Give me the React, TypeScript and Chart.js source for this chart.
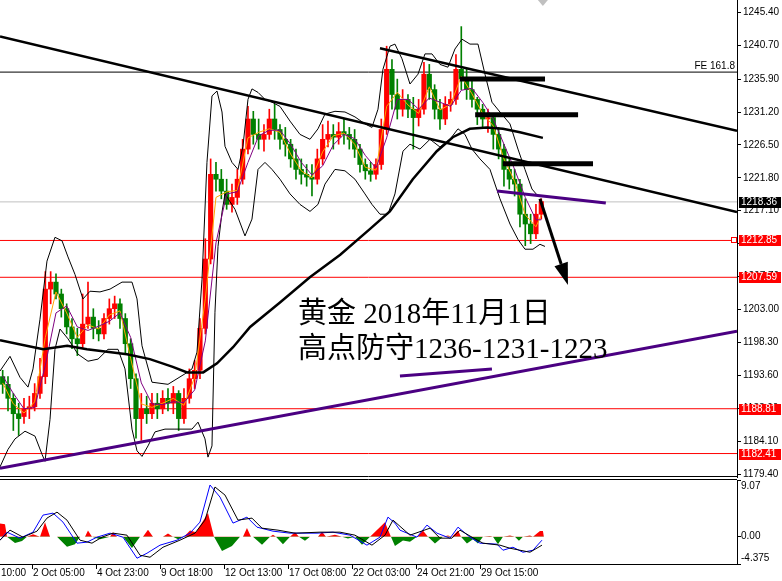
import React, { useEffect, useRef } from "react";
import { Chart, registerables } from "chart.js";

Chart.register(...registerables);

// ---------------- axes / labels ----------------
const priceTicks = [1245.4, 1240.7, 1235.9, 1231.2, 1226.5, 1221.8, 1217.1, 1212.4, 1207.7, 1203.0, 1198.3, 1193.6, 1188.9, 1184.1, 1179.4];
const indicatorTicks = [9.07, 0, -4.375];
const indicatorTickLabels = ["9.07", "0.00", "-4.375"];
const timeTickIndex = [-0.5, 5.5, 17.5, 29.5, 41.5, 53.5, 65.5, 77.5, 89.5];
const timeLabels = ["10:00", "2 Oct 05:00", "4 Oct 23:00", "9 Oct 18:00", "12 Oct 13:00", "17 Oct 08:00", "22 Oct 03:00", "24 Oct 21:00", "29 Oct 15:00"];

// ---------------- candles (H1 gold, compressed) ----------------
const candleOpen = [
  1193.4, 1192.3, 1190.3, 1188.1, 1187.7, 1188.8, 1189.1, 1191.0, 1193.4, 1205.9,
  1206.9, 1205.2, 1203.1, 1200.5, 1198.8, 1198.1, 1200.9, 1201.9, 1200.3, 1199.5,
  1201.7, 1203.1, 1203.8, 1201.7, 1198.1, 1193.1, 1187.4, 1188.8, 1188.1, 1189.6,
  1188.8, 1190.3, 1189.6, 1191.0, 1187.4, 1190.3, 1193.1, 1194.3, 1200.3, 1210.2,
  1222.3, 1221.6, 1219.9, 1218.0, 1219.0, 1221.6, 1225.9, 1230.2, 1228.0, 1227.3,
  1228.0, 1230.2, 1228.7, 1227.3, 1226.6, 1224.5, 1223.0, 1222.3, 1221.9, 1221.6,
  1224.5, 1227.3, 1228.0, 1227.6, 1228.4, 1228.0, 1227.3, 1225.9, 1223.7, 1222.8,
  1222.3, 1223.7, 1228.7, 1237.3, 1233.7, 1231.6, 1233.0, 1231.6, 1230.4, 1231.6,
  1236.6, 1234.4, 1231.6, 1230.2, 1232.3, 1233.0, 1237.3, 1235.9, 1234.4, 1233.0,
  1231.6, 1230.2, 1230.4, 1228.0, 1225.9, 1223.0, 1221.6, 1220.9, 1216.6, 1215.2,
  1213.8, 1216.6,
];
const candleHigh = [
  1194.3, 1193.4, 1191.0, 1189.6, 1190.3, 1190.6, 1192.4, 1196.0, 1208.4, 1208.4,
  1208.1, 1205.9, 1203.8, 1201.7, 1200.3, 1205.2, 1206.9, 1203.1, 1201.4, 1202.4,
  1204.5, 1204.9, 1204.5, 1202.4, 1198.8, 1193.8, 1191.0, 1190.6, 1191.0, 1191.0,
  1191.4, 1191.7, 1192.0, 1191.4, 1191.7, 1194.5, 1195.7, 1201.7, 1213.1, 1224.5,
  1224.0, 1223.0, 1221.6, 1220.9, 1223.0, 1227.3, 1232.0, 1231.3, 1230.2, 1229.4,
  1231.6, 1232.3, 1229.4, 1229.0, 1227.3, 1225.9, 1224.5, 1223.7, 1223.7, 1225.9,
  1229.4, 1229.9, 1229.4, 1229.7, 1230.2, 1229.0, 1228.7, 1226.6, 1224.5, 1224.0,
  1224.5, 1230.2, 1240.6, 1238.7, 1235.9, 1234.4, 1233.7, 1233.3, 1233.0, 1238.3,
  1238.0, 1235.1, 1233.0, 1233.4, 1234.1, 1239.4, 1243.4, 1237.3, 1235.9, 1233.3,
  1232.3, 1231.6, 1230.9, 1229.0, 1226.6, 1224.5, 1223.0, 1221.6, 1218.8, 1216.6,
  1218.0, 1218.8,
];
const candleLow = [
  1191.0, 1188.5, 1185.7, 1185.0, 1186.7, 1187.4, 1188.5, 1190.3, 1192.4, 1203.8,
  1204.5, 1201.9, 1199.5, 1197.4, 1196.4, 1197.4, 1200.3, 1198.8, 1198.5, 1198.8,
  1200.9, 1201.7, 1200.3, 1196.7, 1191.7, 1184.6, 1184.3, 1186.7, 1187.4, 1187.4,
  1188.1, 1188.5, 1188.1, 1185.7, 1186.7, 1189.6, 1191.7, 1193.1, 1199.5, 1209.5,
  1219.9, 1218.8, 1217.3, 1216.9, 1218.0, 1220.9, 1225.2, 1226.6, 1225.9, 1225.6,
  1227.3, 1227.3, 1225.9, 1224.9, 1223.3, 1221.6, 1220.9, 1220.6, 1219.2, 1220.9,
  1223.7, 1226.2, 1225.9, 1226.6, 1226.6, 1225.9, 1224.7, 1222.6, 1221.6, 1221.3,
  1221.6, 1223.0, 1228.0, 1231.6, 1230.2, 1230.6, 1230.4, 1225.9, 1229.2, 1230.9,
  1233.0, 1230.2, 1228.7, 1229.4, 1231.3, 1232.3, 1234.4, 1233.0, 1231.9, 1229.4,
  1229.0, 1228.3, 1225.9, 1224.5, 1220.6, 1220.2, 1219.2, 1214.8, 1212.1, 1212.4,
  1213.1, 1215.9,
];
const candleClose = [
  1192.3, 1190.3, 1188.1, 1187.4, 1188.8, 1189.1, 1191.0, 1193.4, 1205.9, 1206.9,
  1205.2, 1203.1, 1200.5, 1198.8, 1198.1, 1200.9, 1201.9, 1200.3, 1199.5, 1201.7,
  1203.1, 1203.8, 1201.7, 1198.1, 1193.1, 1187.4, 1188.8, 1188.1, 1189.6, 1188.8,
  1190.3, 1189.6, 1191.0, 1187.4, 1190.3, 1193.1, 1194.3, 1200.3, 1210.2, 1222.3,
  1221.6, 1219.9, 1218.0, 1219.0, 1221.6, 1225.9, 1230.2, 1228.0, 1227.3, 1228.0,
  1230.2, 1228.7, 1227.3, 1226.6, 1224.5, 1223.0, 1222.3, 1221.9, 1221.6, 1224.5,
  1227.3, 1228.0, 1227.6, 1228.4, 1228.0, 1227.3, 1225.9, 1223.7, 1222.8, 1222.3,
  1223.7, 1228.7, 1237.3, 1233.7, 1231.6, 1233.0, 1231.6, 1230.4, 1231.6, 1236.6,
  1234.4, 1231.6, 1230.2, 1232.3, 1233.0, 1237.3, 1235.9, 1234.4, 1233.0, 1231.6,
  1230.2, 1230.4, 1228.0, 1225.9, 1223.0, 1221.6, 1220.9, 1216.6, 1215.2, 1213.8,
  1216.6, 1218.4,
];

// ---------------- moving averages ----------------
const maIndex = [0, 2, 4, 6, 8, 10, 12, 14, 16, 18, 20, 22, 24, 26, 28, 30, 32, 34, 36, 38, 40, 42, 44, 46, 48, 50, 52, 54, 56, 58, 60, 62, 64, 66, 68, 70, 72, 74, 76, 78, 80, 82, 84, 86, 88, 90, 92, 94, 96, 98, 100, 101];
const maFast = [1192.5, 1189.5, 1188.2, 1189.8, 1199, 1205.5, 1202.5, 1199, 1200.8, 1200.2, 1202.2, 1202.8, 1196, 1189.5, 1189, 1189.6, 1190.3, 1189.3, 1193.3, 1204.5, 1219, 1219.8, 1220, 1227.5, 1228.3, 1228.8, 1228.3, 1225.2, 1222.8, 1221.8, 1225.5, 1227.8, 1228.2, 1226.6, 1223.3, 1222.9, 1232, 1234, 1232.2, 1231, 1234.8, 1231.5, 1232.3, 1236.3, 1233.8, 1231, 1229.2, 1224.5, 1221.3, 1216.5, 1214.8, 1216.5];
const maSlow = [1193.5, 1191, 1188.8, 1189, 1195, 1202.5, 1203.5, 1200.5, 1200, 1200.6, 1201.3, 1202.5, 1199, 1192.5, 1189.5, 1189.4, 1189.8, 1189.7, 1191.5, 1198.5, 1212.5, 1219.5, 1219.8, 1224, 1227.8, 1228.6, 1228.6, 1226.6, 1224, 1222.2, 1223.5, 1226.5, 1228, 1227.4, 1225, 1223.2, 1227.5, 1233, 1233, 1231.6, 1233.2, 1232.6, 1232, 1234.3, 1234.6, 1232.6, 1230.2, 1226.6, 1223, 1219, 1215.8, 1215.8];
const ma200Index = [-0.5, 7.6, 12.1, 15.8, 23.3, 27.6, 31.9, 34.6, 37.6, 40.2, 43.2, 46.4, 52, 57.6, 63.3, 68.9, 72.6, 76.9, 81.4, 84.4, 87.6, 90.8, 93.8, 97, 101.3];
const ma200Value = [1198.6, 1197.3, 1197.8, 1197.3, 1196.6, 1195.9, 1194.8, 1194.0, 1194.0, 1195.3, 1197.6, 1200.5, 1204.0, 1207.6, 1210.8, 1214.5, 1217.0, 1221.6, 1225.6, 1227.6, 1228.8, 1229.0, 1228.8, 1228.3, 1227.5];

// ---------------- bands ----------------
const bandUpperIndex = [-0.5, 1.38, 3.25, 4.75, 5.69, 7, 8.31, 9.81, 11.13, 12.25, 13.56, 15.06, 16.38, 18.25, 20.13, 22.38, 24.25, 25.19, 26.13, 28, 31, 34.19, 35.5, 36.44, 37.38, 38.31, 39.25, 40.19, 41.13, 41.69, 43, 44.13, 45.06, 46, 46.75, 47.88, 49.19, 50.5, 52, 53.88, 55.75, 57.63, 59.13, 60.44, 62.31, 64.19, 66.06, 67.94, 69.25, 70.38, 71.31, 72.63, 73.56, 74.88, 76.38, 77.88, 79.19, 80.5, 82, 83.5, 84.81, 86.13, 87.63, 89.13, 90.44, 91.75, 93.25, 95.13, 96.63, 97.94, 99.25, 100.38, 101.31];
const bandUpperValue = [1194.2, 1196.3, 1193.3, 1191.9, 1194.5, 1201.6, 1209.9, 1213.3, 1212.8, 1210.5, 1208.0, 1204.5, 1205.6, 1205.5, 1205.9, 1206.9, 1206.9, 1204.5, 1197.8, 1192.6, 1192.3, 1193.8, 1194.5, 1196.9, 1207.3, 1224.0, 1233.5, 1234.2, 1231.2, 1226.3, 1224.0, 1223.0, 1226.3, 1233.0, 1234.5, 1234.0, 1233.0, 1232.6, 1232.0, 1229.9, 1228.0, 1227.3, 1228.8, 1230.9, 1231.3, 1231.2, 1230.5, 1229.5, 1229.0, 1231.6, 1237.3, 1240.6, 1240.9, 1238.8, 1235.2, 1236.6, 1239.5, 1239.5, 1238.0, 1237.6, 1240.2, 1241.6, 1240.9, 1240.9, 1236.6, 1232.6, 1231.2, 1229.5, 1225.9, 1223.0, 1220.2, 1219.2, 1219.2];
const bandLowerIndex = [-0.5, 1, 2.31, 4.19, 6.06, 7.38, 7.94, 8.88, 9.81, 10.75, 12.25, 14.13, 16, 17.88, 19.75, 21.63, 22.94, 24.25, 25.19, 26.13, 27.25, 28.56, 30.44, 32.31, 35.5, 36.63, 37.94, 38.5, 39.25, 39.81, 40.38, 41.13, 41.69, 43.56, 45.44, 46.75, 47.88, 49.19, 50.5, 52, 53.88, 55.75, 57.63, 59.13, 60.44, 62.31, 64.19, 66.06, 67.94, 69.25, 70.75, 72.25, 73.56, 75.06, 76.38, 78.25, 80.13, 82, 83.88, 85.38, 86.69, 88, 89.5, 91.38, 93.25, 95.13, 96.63, 97.94, 99.44, 100.75, 101.69];
const bandLowerValue = [1180.5, 1183.0, 1184.5, 1185.6, 1184.9, 1182.3, 1181.3, 1187.3, 1197.3, 1200.2, 1198.8, 1196.6, 1195.6, 1195.9, 1197.3, 1197.3, 1194.5, 1185.9, 1182.8, 1182.0, 1183.5, 1185.5, 1185.9, 1185.9, 1185.9, 1186.9, 1184.5, 1181.9, 1183.5, 1202.6, 1212.0, 1216.9, 1219.5, 1217.3, 1213.5, 1215.9, 1223.0, 1224.0, 1223.0, 1221.6, 1219.5, 1218.0, 1217.0, 1218.0, 1220.9, 1223.0, 1222.8, 1221.6, 1219.5, 1218.0, 1216.6, 1216.6, 1219.5, 1225.6, 1226.6, 1225.9, 1227.3, 1226.2, 1227.3, 1228.8, 1228.0, 1225.9, 1224.5, 1223.0, 1218.8, 1215.2, 1213.0, 1211.6, 1211.6, 1212.3, 1212.0];

// ---------------- drawn objects ----------------
const levelValues = [1218.36, 1212.85, 1207.59, 1188.81, 1182.41];
const levelLabels = ["1218.36", "1212.85", "1207.59", "1188.81", "1182.41"];
const feLevel = 1236.9;
const feLabel = "FE 161.8";
const channelLowerIndex = [-0.5, 137.7];
const channelLowerValue = [1242.0, 1216.9];
const channelUpperIndex = [70.75, 137.7];
const channelUpperValue = [1240.3, 1228.5];
const supportIndex = [-0.5, 137.7];
const supportValue = [1180.3, 1199.9];
const shortPurpleAIndex = [92.7, 113.1];
const shortPurpleAValue = [1219.9, 1218.2];
const shortPurpleBIndex = [74.5, 91.75];
const shortPurpleBValue = [1193.5, 1194.5];
const defenceValue = [1235.9, 1230.8, 1223.8];
const defenceFrom = [85.75, 88.6, 93.8];
const defenceTo = [101.7, 107.9, 110.7];
const arrowFrom = [100.75, 1218.8];
const arrowTo = [106.0, 1206.5];
const noteLines = ["黄金 2018年11月1日", "高点防守1236-1231-1223"];

// ---------------- oscillator ----------------
const histIndex = [-0.5, 0.44, 0.81, 2.31, 3.63, 4.56, 5.69, 7, 7.94, 8.88, 10.19, 12.06, 13.56, 14.5, 15.44, 16, 16.75, 18.25, 20.13, 20.69, 21.44, 22.56, 24.25, 25.75, 26.31, 27.25, 28.19, 30.06, 31, 31.94, 32.88, 34, 35.13, 36.25, 38.5, 39.63, 41.13, 43, 44.5, 45.06, 45.81, 46.56, 46.94, 48.63, 50.13, 50.69, 51.25, 52.56, 53.88, 54.81, 55.56, 56.69, 57.63, 59.13, 59.88, 60.63, 62.31, 63.63, 64.75, 66.06, 67.38, 68.88, 71.69, 72.81, 73.56, 75.06, 76.38, 77.69, 78.81, 79.75, 81.06, 82.56, 83.5, 84.25, 85.38, 85.94, 87.06, 88.19, 89.13, 90.06, 91.38, 91.94, 92.88, 93.81, 95.13, 96.06, 96.81, 97.56, 98.88, 99.44, 100.75, 101.31, 101.5];
const histValue = [2.1, 2.0, 0, -1.0, -0.7, 0, 0.4, 0, 2.3, 0, 0, -1.6, -1.2, 0, 0, 1.0, 0, -0.4, 0, 0.7, 0, 0, -1.8, 0, 0, 1.1, 0, 0, 0.5, 0, -0.4, 0, 1.0, 0.7, 3.8, 0, -2.3, -1.5, 0, 0, 1.4, 0, 0, -1.3, 0, 0.3, 0, -1.2, 0, 0.7, 0, -0.65, 0, 0, 0.8, 0, 0.3, 0, -0.3, 0, -1.3, 0, 2.3, 0, -1.5, -0.6, -0.8, 0, 1.0, 0, -1.1, 0, 0.2, 0, 1.0, 0, -1.1, -0.4, -1.1, 0, 0.1, 0, -1.2, 0, 0.2, 0, -0.65, 0, 0.2, 0, 0.9, 0.9, 0];
const blueIndex = [-0.5, 0.81, 3.25, 5.69, 7.56, 9.44, 11.31, 13.94, 15.81, 17.69, 20.13, 22.56, 25.19, 27.06, 29.5, 32.69, 35.13, 37, 38.88, 40.75, 43.19, 45.81, 47.69, 50.69, 53.88, 58.94, 61.94, 65.13, 68.31, 70.75, 72.25, 73.56, 74.5, 77.69, 79.56, 81.44, 83.88, 85.38, 87.63, 89.5, 92.69, 93.81, 95.69, 97.56, 99.44, 101.13];
const blueValue = [-0.56, 0.72, -0.24, 0.72, 3.45, 3.77, 2.33, -1.04, -0.88, -0.08, 0.56, -0.08, -3.45, -2.65, -1.36, -0.56, 0.56, 2.33, 8.27, 6.34, 2.17, 3.13, 1.52, 0.88, 0.56, 0.56, 0.72, 0.24, -1.36, -0.08, 3.13, 2.17, 1.04, -0.08, 1.85, 0.56, -0.24, 1.52, -0.08, -1.04, -1.2, -2.17, -1.69, -2.49, -2.17, -0.56];
const blackIndex = [-0.5, 1.38, 3.81, 6.44, 8.31, 10.19, 12.06, 14.5, 16.75, 18.63, 20.69, 23.31, 25.75, 27.63, 30.06, 33.25, 36.06, 37.94, 39.81, 41.69, 44.13, 46.75, 48.63, 51.63, 54.81, 59.5, 63.25, 66.06, 69.25, 71.69, 73.19, 76.38, 80.13, 82, 84.25, 85.75, 88, 90.06, 93.25, 95.13, 98.88, 101.13];
const blackValue = [-0.56, 1.04, -0.08, 0.88, 2.97, 3.93, 2.65, -0.56, -1.04, -0.08, 0.56, 0.24, -2.97, -3.29, -1.69, -0.56, 0.56, 2.65, 7.95, 6.66, 2.65, 2.97, 1.36, 1.04, 0.56, 0.72, 0.72, 0.24, -1.36, 0.24, 2.65, 0.24, 1.36, -0.24, -0.24, 1.04, -0.08, -1.04, -1.36, -1.85, -2.49, -1.36];

// ---------------- layout constants ----------------
const X_MIN = -0.5;
const X_MAX = 137.7;
const Y_MIN = 1179.06;
const Y_MAX = 1247.2;
const AXIS_W = 45;
const AXIS_FONT = "'Liberation Sans', Arial, sans-serif";
const AXIS_SIZE = 10;
const NOTE_FONT = "29px 'Liberation Serif', 'Noto Sans CJK SC', serif";
const NOTE_X = 55.4;
const NOTE_Y = [1201.05, 1196.05];
const SHIFT_X = 101.3;

const pts = (xs: number[], ys: number[]) => xs.map((x, i) => ({ x, y: ys[i] }));
const lineDs = (data: any[], color: string, width: number, order: number, extra: any = {}) => ({
  type: "line",
  data,
  borderColor: color,
  backgroundColor: color,
  borderWidth: width,
  pointRadius: 0,
  pointHoverRadius: 0,
  fill: false,
  tension: 0,
  order,
  ...extra,
});

const mainOverlay = {
  id: "mainOverlay",
  afterDatasetsDraw(chart: any) {
    const { ctx, chartArea: a, scales } = chart;
    const xs = scales.x;
    const ys = scales.y;
    ctx.save();
    // arrow
    const x1 = xs.getPixelForValue(arrowFrom[0]);
    const y1 = ys.getPixelForValue(arrowFrom[1]);
    const x2 = xs.getPixelForValue(arrowTo[0]);
    const y2 = ys.getPixelForValue(arrowTo[1]);
    const ang = Math.atan2(y2 - y1, x2 - x1);
    const head = 22;
    const half = 7;
    const bx = x2 - head * Math.cos(ang);
    const by = y2 - head * Math.sin(ang);
    ctx.strokeStyle = "#000";
    ctx.lineWidth = 3;
    ctx.beginPath();
    ctx.moveTo(x1, y1);
    ctx.lineTo(bx, by);
    ctx.stroke();
    ctx.fillStyle = "#000";
    ctx.beginPath();
    ctx.moveTo(x2, y2);
    ctx.lineTo(bx - half * Math.sin(ang), by + half * Math.cos(ang));
    ctx.lineTo(bx + half * Math.sin(ang), by - half * Math.cos(ang));
    ctx.closePath();
    ctx.fill();
    // note text
    ctx.font = NOTE_FONT;
    ctx.textAlign = "left";
    ctx.textBaseline = "alphabetic";
    ctx.fillStyle = "#000";
    noteLines.forEach((t, i) => ctx.fillText(t, xs.getPixelForValue(NOTE_X), ys.getPixelForValue(NOTE_Y[i])));
    // FE label
    ctx.font = `${AXIS_SIZE}px ${AXIS_FONT}`;
    ctx.textAlign = "right";
    ctx.textBaseline = "bottom";
    ctx.fillText(feLabel, a.right - 2, ys.getPixelForValue(feLevel) - 1);
    // bottom frame
    ctx.strokeStyle = "#000";
    ctx.lineWidth = 1;
    ctx.beginPath();
    ctx.moveTo(0, a.bottom - 0.5);
    ctx.lineTo(a.right, a.bottom - 0.5);
    ctx.stroke();
    // chart shift marker
    const sx = xs.getPixelForValue(SHIFT_X);
    ctx.fillStyle = "#c0c0c0";
    ctx.beginPath();
    ctx.moveTo(sx - 5, a.top);
    ctx.lineTo(sx + 5, a.top);
    ctx.lineTo(sx, a.top + 6);
    ctx.closePath();
    ctx.fill();
    // small square at right end of 1212.85 line
    const qy = Math.round(ys.getPixelForValue(levelValues[1]));
    ctx.fillStyle = "#fff";
    ctx.strokeStyle = "#ff0000";
    ctx.fillRect(a.right - 5, qy - 2, 4, 4);
    ctx.strokeRect(a.right - 5.5, qy - 2.5, 5, 5);
    ctx.restore();
  },
  afterDraw(chart: any) {
    const { ctx, chartArea: a, scales } = chart;
    ctx.save();
    ctx.font = `${AXIS_SIZE}px ${AXIS_FONT}`;
    ctx.textAlign = "left";
    ctx.textBaseline = "middle";
    levelValues.forEach((v, i) => {
      const py = Math.round(scales.y.getPixelForValue(v));
      ctx.fillStyle = i === 0 ? "#000" : "#ff0000";
      ctx.fillRect(a.right + 2, py - 5, 42, 11);
      ctx.fillStyle = "#fff";
      ctx.fillText(levelLabels[i], a.right + 4, py + 0.5);
    });
    ctx.restore();
  },
};

const indOverlay = {
  id: "indOverlay",
  afterDraw(chart: any) {
    const { ctx, chartArea: a, scales } = chart;
    ctx.save();
    ctx.strokeStyle = "#000";
    ctx.lineWidth = 1;
    ctx.beginPath();
    ctx.moveTo(0, a.top - 0.5);
    ctx.lineTo(a.right, a.top - 0.5);
    ctx.moveTo(0, a.bottom + 0.5);
    ctx.lineTo(a.right, a.bottom + 0.5);
    ctx.stroke();
    ctx.fillStyle = "#000";
    ctx.font = `${AXIS_SIZE}px ${AXIS_FONT}`;
    ctx.textAlign = "left";
    ctx.textBaseline = "middle";
    ctx.fillText(indicatorTickLabels[0], a.right + 4, a.top + 6);
    ctx.fillText(indicatorTickLabels[1], a.right + 4, scales.y.getPixelForValue(indicatorTicks[1]));
    ctx.fillText(indicatorTickLabels[2], a.right + 4, a.bottom - 6);
    timeTickIndex.forEach((t, i) => {
      const px = Math.round(scales.x.getPixelForValue(t)) + 0.5;
      if (i > 0) {
        ctx.beginPath();
        ctx.moveTo(px, a.bottom);
        ctx.lineTo(px, a.bottom + 5);
        ctx.stroke();
      }
      ctx.fillText(timeLabels[i], px + 0.5, a.bottom + 9);
    });
    ctx.restore();
  },
};

export default function App() {
  const mainRef = useRef<HTMLCanvasElement | null>(null);
  const indRef = useRef<HTMLCanvasElement | null>(null);

  useEffect(() => {
    if (!mainRef.current || !indRef.current) return;
    const up = "#ff0000";
    const down = "#008000";
    const idx = candleOpen.map((_, i) => i);
    const candleColors = candleClose.map((c, i) => (c >= candleOpen[i] ? up : down));

    const datasets: any[] = [];
    levelValues.forEach((v, i) =>
      datasets.push(lineDs(pts([X_MIN, X_MAX], [v, v]), i === 0 ? "#c0c0c0" : "#ff0000", 1, 40))
    );
    datasets.push(lineDs(pts([X_MIN, X_MAX], [feLevel, feLevel]), "#000", 1, 40));
    datasets.push({
      type: "bar",
      data: idx.map((i) => ({ x: i, y: [candleLow[i], candleHigh[i]] })),
      backgroundColor: candleColors,
      barThickness: 1,
      grouped: false,
      borderWidth: 0,
      order: 31,
    });
    datasets.push({
      type: "bar",
      data: idx.map((i) => ({ x: i, y: [candleOpen[i], candleClose[i]] })),
      backgroundColor: candleColors,
      barThickness: 4.5,
      minBarLength: 1,
      grouped: false,
      borderWidth: 0,
      order: 30,
    });
    datasets.push(lineDs(pts(bandUpperIndex, bandUpperValue), "#000", 1, 20));
    datasets.push(lineDs(pts(bandLowerIndex, bandLowerValue), "#000", 1, 20));
    datasets.push(lineDs(pts(maIndex, maFast), "#ffa500", 1, 19));
    datasets.push(lineDs(pts(maIndex, maSlow), "#800080", 1, 18));
    datasets.push(lineDs(pts(ma200Index, ma200Value), "#000", 2.5, 15));
    datasets.push(lineDs(pts(channelLowerIndex, channelLowerValue), "#000", 2.5, 10));
    datasets.push(lineDs(pts(channelUpperIndex, channelUpperValue), "#000", 2.5, 10));
    datasets.push(lineDs(pts(supportIndex, supportValue), "#4b0082", 3, 10));
    datasets.push(lineDs(pts(shortPurpleAIndex, shortPurpleAValue), "#4b0082", 3, 10));
    datasets.push(lineDs(pts(shortPurpleBIndex, shortPurpleBValue), "#4b0082", 3, 10));
    defenceValue.forEach((v, i) =>
      datasets.push(lineDs(pts([defenceFrom[i], defenceTo[i]], [v, v]), "#000", 5, 5, { borderCapStyle: "butt" }))
    );

    const mainChart = new Chart(mainRef.current, {
      type: "bar",
      data: { datasets },
      options: {
        animation: false,
        responsive: false,
        devicePixelRatio: 1,
        events: [],
        layout: { padding: { top: 0, bottom: 1, left: 0, right: 0 } },
        plugins: { legend: { display: false }, tooltip: { enabled: false } },
        scales: {
          x: { type: "linear", min: X_MIN, max: X_MAX, display: false, offset: false },
          y: {
            type: "linear",
            position: "right",
            min: Y_MIN,
            max: Y_MAX,
            afterBuildTicks: (s: any) => {
              s.ticks = priceTicks.map((v) => ({ value: v }));
            },
            afterFit: (s: any) => {
              s.width = AXIS_W;
              s.paddingTop = 0;
              s.paddingBottom = 0;
            },
            ticks: {
              autoSkip: false,
              color: "#000",
              padding: 2,
              font: { family: AXIS_FONT, size: AXIS_SIZE },
              callback: (v: any) => Number(v).toFixed(2),
            },
            grid: { drawOnChartArea: false, drawTicks: true, tickLength: 4, color: "#000" },
            border: { display: true, color: "#000", width: 1 },
          },
        },
      } as any,
      plugins: [mainOverlay],
    } as any);

    const indChart = new Chart(indRef.current, {
      type: "line",
      data: {
        datasets: [
          lineDs(pts(histIndex, histValue), "rgba(0,0,0,0)", 0, 3, {
            fill: { target: "origin", above: "#ff0000", below: "#008000" },
          }),
          lineDs(pts(blueIndex, blueValue), "#0000ff", 1, 2),
          lineDs(pts(blackIndex, blackValue), "#000", 1, 1),
        ] as any[],
      },
      options: {
        animation: false,
        responsive: false,
        devicePixelRatio: 1,
        events: [],
        layout: { padding: { top: 1, bottom: 17, left: 0, right: 0 } },
        plugins: { legend: { display: false }, tooltip: { enabled: false } },
        scales: {
          x: { type: "linear", min: X_MIN, max: X_MAX, display: false },
          y: {
            type: "linear",
            position: "right",
            min: indicatorTicks[2],
            max: indicatorTicks[0],
            afterBuildTicks: (s: any) => {
              s.ticks = indicatorTicks.map((v) => ({ value: v }));
            },
            afterFit: (s: any) => {
              s.width = AXIS_W;
              s.paddingTop = 0;
              s.paddingBottom = 0;
            },
            ticks: { display: false },
            grid: { drawOnChartArea: false, drawTicks: true, tickLength: 4, color: "#000" },
            border: { display: true, color: "#000", width: 1 },
          },
        },
      } as any,
      plugins: [indOverlay],
    } as any);

    return () => {
      mainChart.destroy();
      indChart.destroy();
    };
  }, []);

  return (
    <div style={{ position: "absolute", left: 0, top: 0, width: 782, height: 581, background: "#fff" }}>
      <canvas ref={mainRef} width={782} height={478} style={{ position: "absolute", left: 0, top: 0, width: 782, height: 478 }} />
      <canvas ref={indRef} width={782} height={102} style={{ position: "absolute", left: 0, top: 479, width: 782, height: 102 }} />
    </div>
  );
}
